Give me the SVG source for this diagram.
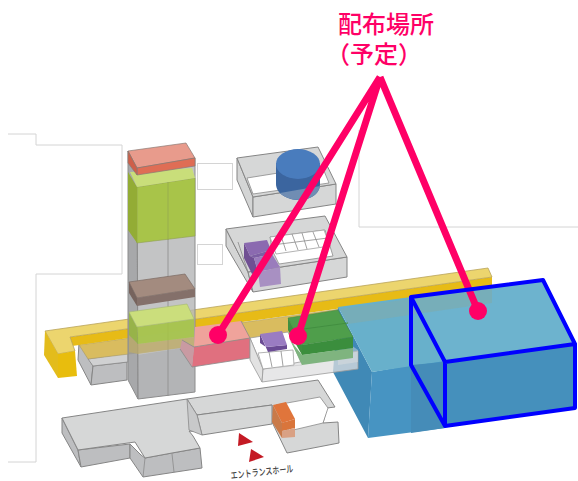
<svg xmlns="http://www.w3.org/2000/svg" width="578" height="481" viewBox="0 0 578 481">
<defs><filter id="soft" x="-5%" y="-5%" width="110%" height="110%"><feGaussianBlur stdDeviation=".4"/></filter></defs>
<style>
.thin{fill:none;stroke:#d4d4d4;stroke-width:1}
polygon{stroke-linejoin:round}
.b{filter:url(#soft)}
.w{fill:#d6d7d7;stroke:#858585;stroke-width:1}
.wd{fill:#bdbec0;stroke:#858585;stroke-width:1}
.cell{fill:#fff;stroke:#a0a0a0;stroke-width:.8}
.t{fill:#b4b5b7;fill-opacity:.8;stroke:#8c8c8c;stroke-width:1}
.td{fill:#98999b;fill-opacity:.85;stroke:#8c8c8c;stroke-width:1}
.e{stroke:#8a8a8a;stroke-width:.8;fill:none}
.pink{fill:none;stroke:#ff0066;stroke-width:7}
.dot{fill:#ff0066}
.blue{fill:none;stroke:#0000ff;stroke-width:4;stroke-linejoin:round;stroke-linecap:round}
.lab{font-family:"Liberation Sans","Noto Sans CJK JP",sans-serif;font-size:24px;font-weight:500;fill:#ff0066}
.tri{fill:#c41a24}
</style>
<g id="frame-lines">
<path class="thin" d="M8 134H36V145H122V274H36V462H8"/>
<path class="thin" d="M359 130V227H578"/>
<rect class="thin" x="197.500" y="163.500" width="35" height="26"/>
<rect class="thin" x="197.500" y="244.500" width="25" height="20"/>
</g>
<g id="tank-building" class="b">
<polygon class="wd" points="237,158 253,197 253,217 237,180" style="fill:#d4d5d5"/>
<polygon class="w" points="253,197 336,184 336,204 253,217"/>
<polygon class="w" points="237,158 318,147 336,184 253,197"/>
<polygon fill="#fff" stroke="#8a8a8a" stroke-width=".8" points="247,178 322,166 329,183 253,194"/>
<path d="M276 163V184C276 194 288 200 299 200C310 200 320 194 320 184V163Z" fill="#3a659f"/>
<path d="M280 193L320 186C319 194 310 200 299 200C291 200 284 197 280 193Z" fill="#6f8db3"/>
<ellipse cx="298" cy="164" rx="22" ry="15" fill="#4a7bbd"/>
</g>
<g id="purple-building" class="b">
<polygon class="wd" points="226,229 248,272 253,292 226,246" style="fill:#d4d5d5"/>
<polygon class="w" points="248,272 347,257 347,277 253,292"/>
<polygon class="w" points="226,229 325,216 347,257 248,272"/>
<polygon fill="#fff" stroke="#8a8a8a" stroke-width=".8" points="270,237 325,230 333,256 279,264 272,250"/>
<polygon class="cell" points="270,237 324,230 330,246 276,254"/>
<path class="e" d="M281 236L286 251M292 234L298 250M302 233L307 249M313 232L319 247M272 245L328 238"/>
<path class="e" d="M238 242L248 272"/>
<polygon fill="#6f4f93" points="244,243 250,256 254,258 258,272 252,274 244,258"/>
<polygon fill="#8b6bb0" points="244,243 267,240 271,250 250,256"/>
<polygon fill="#7d5ea4" points="250,256 271,250 272,254 254,258"/>
<polygon fill="#9a7cbc" points="254,258 272,254 280,267 258,272"/>
<polygon fill="#a890c2" points="258,272 280,267 281,284 260,287"/>
</g>
<g id="low-building" class="b">
<polygon class="wd" points="78,360 79,343 93,366 91,385"/>
<polygon class="wd" points="91,385 93,366 127,362 127,380"/>
<polygon fill="#d0d1d2" stroke="#8a8a8a" stroke-width=".8" points="88,359 128,353 128,362 93,366"/>
</g>
<g id="yellow-bar" class="b">
<polygon fill="#d9bc5e" stroke="#a89a6c" stroke-width=".6" points="79,345 340,309 300,335 250,340 195,346 88,359"/>
<polygon fill="#e7bb12" points="70,337 492,277 492,287 72,346"/>
<polygon fill="#ecd56e" stroke="#b9a35a" stroke-width=".8" points="45,331 488,268 492,277 70,337 75,351 58,354"/>
<polygon fill="#e3bc1a" points="45,331 58,354 58,378 44,355"/>
<polygon fill="#e8bd10" points="58,354 75,351 77,376 58,378"/>
</g>
<g id="tower" class="b">
<polygon class="td" points="128,151 137,168 138,399 128,380"/>
<polygon class="t" points="137,168 195,158 195,392 138,399"/>
<path class="e" d="M168 163V396"/>
<polygon fill="#c2ad62" fill-opacity=".65" points="129,335 138,344 194,337 194,346 138,354 129,352"/>
<polygon fill="#a8c44a" stroke="#8f9e50" stroke-width=".6" points="137,187 195,178 195,236 137,243"/>
<polygon fill="#93ac36" points="128,172 137,187 137,243 128,230"/>
<polygon fill="#c9de7a" points="130,172 192,168 195,178 137,187"/>
<path d="M168 182V240" stroke="#93a850" stroke-width=".7"/>
<polygon fill="#e89b8c" stroke="#8a7a74" stroke-width=".7" points="128,151 186,143 195,158 137,168"/>
<polygon fill="#df6d55" stroke="#8a7a74" stroke-width=".7" points="137,168 195,158 195,166 137,175"/>
<polygon fill="#cf5f49" stroke="#8a7a74" stroke-width=".7" points="128,151 137,168 137,175 128,163"/>
<polygon fill="#a38b7f" stroke="#7b6c64" stroke-width=".7" points="129,282 185,274 195,289 137,298"/>
<polygon fill="#84706a" points="137,298 195,289 195,297 137,306"/>
<polygon fill="#76645d" points="129,282 137,298 137,306 129,293"/>
<polygon fill="#a6c744" fill-opacity=".85" points="137,327 194,319 194,337 138,344"/>
<polygon fill="#96b73e" fill-opacity=".85" points="129,312 137,327 138,344 129,335"/>
<polygon fill="#cbde7c" stroke="#a4b870" stroke-width=".6" points="129,312 187,304 194,319 137,327"/>
<polygon fill="#8f9092" fill-opacity=".3" points="137,355 195,346 195,392 138,399"/>
</g>
<g id="pink-room" class="b">
<polygon fill="#efa39b" points="195,327 241,321 250,338 194,347"/>
<polygon fill="#e0707f" points="194,347 250,338 250,358 192,367"/>
<polygon fill="#c99aa2" points="182,340 194,347 192,367 180,349"/>
<path class="e" d="M180 349L192 367L250 358V338L241 321M194 347L250 338M182 340L194 347"/>
</g>
<g id="blue-building" class="b">
<polygon fill="#3f89b6" points="338,307 372,372 368,438 333,372"/>
<polygon fill="#4694c2" points="372,372 445,359 445,428 368,438"/>
<polygon fill="#68b0cb" points="338,307 411,297 445,361 372,372"/>
<polygon fill="#458cb8" points="411,365 445,362 445,428 411,433"/>
<polygon fill="#6db3ce" points="411,297 543,280 575,344 445,362"/>
<polygon fill="#4490bc" points="445,362 575,344 575,408 445,426"/>
<polygon fill="#7cadb0" fill-opacity=".7" points="340,309 492,287 492,303 348,324"/>
</g>
<g id="centre-room" class="b">
<polygon fill="#fff" stroke="#9a9a9a" stroke-width=".8" points="250,338 288,332 302,365 263,369"/>
<polygon fill="#e2e2e2" stroke="#9a9a9a" stroke-width=".8" points="250,338 263,369 262,382 250,360"/>
<polygon fill="#dfdfe0" fill-opacity=".75" stroke="#9a9a9a" stroke-width=".8" points="263,369 358,351 358,369 262,382"/>
<polygon fill="#dfe0e0" fill-opacity=".45" points="338,336 358,350 358,362 338,365"/>
<polygon class="cell" points="258,353 293,350 294,365 263,369"/>
<path class="e" d="M269 352L272 367M281 351L283 366"/>
<polygon fill="#6b4c94" points="260,334 268,352 287,349 287,345 266,347 260,343"/>
<polygon fill="#9a7cc2" points="260,334 282,331 287,345 266,347"/>
<polygon fill="#7fb47f" points="302,355 353,348 353,358 302,365 290,340"/>
<polygon fill="#4f9e4c" stroke="#478a44" stroke-width=".6" points="288,318 338,310 353,337 302,345"/>
<polygon fill="#3a8e3c" points="302,345 353,337 353,348 302,355"/>
<polygon fill="#3f8f3f" points="288,318 302,345 302,355 288,330"/>
<path d="M296 330L348 323" stroke="#428f40" stroke-width="1"/>
</g>
<g id="entrance-hall" class="b">
<polygon class="wd" points="62,418 78,450 81,467 62,433"/>
<polygon class="wd" points="78,450 130,444 130,458 81,467"/>
<polygon class="wd" points="130,444 141,455 145,458 172,453 200,448 202,468 143,477 130,458"/>
<path class="e" d="M145 458L143 477M172 454L174 472"/>
<polygon class="w" points="187,399 318,380 335,407 327,408 323,423 338,422 339,443 287,453 272,422 272,405 197,415"/>
<polygon fill="#fff" stroke="#8a8a8a" stroke-width=".8" points="276,405 320,397 328,408 323,423 289,431"/>
<polygon class="w" points="197,415 272,405 272,424 202,435"/>
<polygon class="w" points="62,418 187,399 200,432 189,431 193,436 200,448 172,453 145,458 135,442 78,450"/>
<polygon fill="#c8c9ca" stroke="#8a8a8a" stroke-width=".8" points="187,399 197,415 202,435 189,430"/>
<polygon fill="#e0743a" points="273,405 286,402 295,419 282,423"/>
<polygon fill="#c97a4a" points="273,405 282,423 282,438 272,422"/>
<polygon fill="#d9743a" points="282,423 295,419 295,428 282,431"/>
<polygon fill="#d9a184" points="282,431 295,428 295,437 282,438"/>
</g>
<g id="entrance-marks">
<polygon class="tri" points="239,433 253,442 238,446"/>
<polygon class="tri" points="251,449 264,457 249,462"/>
<text x="231" y="479" transform="rotate(-6.500 231 479)" textLength="63" lengthAdjust="spacingAndGlyphs" font-family="Liberation Sans,Noto Sans CJK JP,sans-serif" font-size="9.500" font-weight="500" fill="#444">エントランスホール</text>
</g>
<g id="connectors">
<path class="pink" d="M380 77L218 335M380 77L298 336M380 77L478 311"/>
<circle class="dot" cx="218" cy="335" r="9"/>
<circle class="dot" cx="298" cy="336" r="9"/>
<circle class="dot" cx="478" cy="311" r="9"/>
</g>
<g id="blue-outline">
<path class="blue" d="M411 297L543 280L575 344L445 362ZM411 297V365L445 426V362M445 426L575 408V344"/>
</g>
<g id="label">
<text class="lab" x="338" y="33">配布場所</text>
<text class="lab" x="326" y="63">（予定）</text>
</g>
</svg>
